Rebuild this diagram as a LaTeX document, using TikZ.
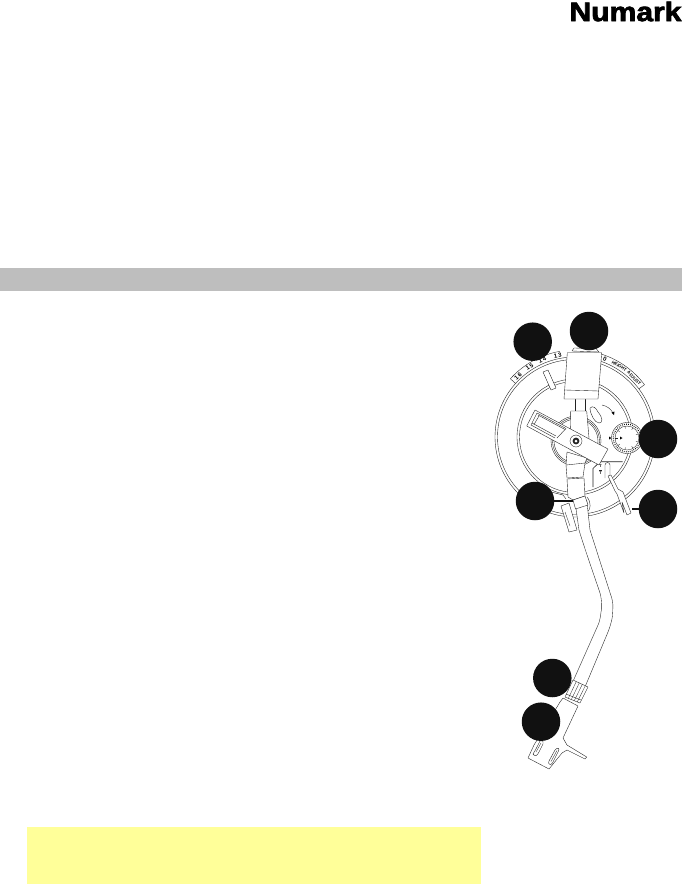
\documentclass[tikz,border=0pt]{standalone}
\usepackage{fontspec}
\setmainfont{Liberation Sans}
\newfontfamily\logofont[FakeBold=2.5,BoldFont={Liberation Sans Bold}]{Liberation Sans Bold}
\usetikzlibrary{calc}
\definecolor{bandgrey}{HTML}{BEBEBE}
\definecolor{noteyellow}{HTML}{FFFF99}
\definecolor{dotblack}{HTML}{111111}
\definecolor{inkline}{HTML}{222222}
\tikzset{
  ln/.style={draw=inkline,line width=0.38pt,line join=round},
  wh/.style={ln,fill=white},
  fine/.style={draw=inkline,line width=0.3pt},
  dot/.style={circle,fill=dotblack,draw=none,minimum size=#1,inner sep=0pt},
  dot/.default=38.5pt,
  lead/.style={draw=dotblack,line width=2.2pt},
  scaletxt/.style={font=\bfseries\fontsize{6}{6}\selectfont,inner sep=0pt},
  smalltxt/.style={font=\bfseries\fontsize{4.4}{4.4}\selectfont,inner sep=0pt}
}
\begin{document}
\begin{tikzpicture}[x=1pt,y=-1pt]
\useasboundingbox (0,0) rectangle (682,884);
% page furniture
\fill[bandgrey] (0,268) rectangle (682,290.5);
\fill[noteyellow] (27,827) rectangle (481,884);
\node[inner sep=0pt,anchor=center] (logo) at (625.5,11.5) {\resizebox{112pt}{19.5pt}{\logofont Numark}};
\coordinate (c) at (575,437);
% rings
\draw[ln] (c) circle[radius=80];
\draw[ln] (c) circle[radius=77.5];
\draw[ln] (c) circle[radius=58];
\draw[ln] (c) circle[radius=55.5];
% height scale band
\draw[ln] ($(c)+(-138:87)$) arc[start angle=-138,end angle=-100,radius=87];
\draw[ln] ($(c)+(-72:87)$) arc[start angle=-72,end angle=-37,radius=87];
\draw[ln] ($(c)+(-138:87)$) -- ($(c)+(-138:80)$);
\draw[ln] ($(c)+(-37:87)$) -- ($(c)+(-37:80)$);
\foreach \lbl/\a in {{1\,6}/-133,{1\,5}/-123,{1\,4}/-113,{1\,3}/-102,0/-69}
  \node[scaletxt,rotate={-(\a+90)}] at ($(c)+(\a:83.5)$) {\lbl};
\node[smalltxt,rotate=-32] at ($(c)+(-58:83.5)$) {HEIGHT};
\node[smalltxt,rotate=-45] at ($(c)+(-45:83.5)$) {ADJUST};
% scale pointer
\draw[wh] (543,372) -- (548,370) -- (556,388) -- (551,390) -- cycle;
% centre hub
\draw[ln] (576,441) circle[radius=25];
\draw[ln] (576,441) circle[radius=23.5];
\draw[ln] (576,441) circle[radius=22];
% anti-skate dial
\draw[wh] (627,438) circle[radius=15.5];
\draw[ln] (627,438) circle[radius=12];
\draw[line width=1.1pt,dash pattern=on 0.7pt off 1.3pt] (627,438) circle[radius=13.8];
\foreach \a in {180,220,260,300,340,20,60,100,140}
  \draw[fine] ($(627,438)+(\a:12)$) -- ($(627,438)+(\a:9.5)$);
\fill (609,436.5) -- (611.5,438) -- (609,439.5) -- cycle;
\fill (620,436.5) -- (622.5,438) -- (620,439.5) -- cycle;
% teardrop and arrow
\draw[wh] (590,408) .. controls (593,405) and (596,408) .. (598,412) .. controls (603,418) and (603,423) .. (599,423) .. controls (595,423) and (590,414) .. (590,408) -- cycle;
\draw[ln] (602,405) .. controls (607,406) and (611,409) .. (613,413);
\fill (614,415) -- (611.5,412.5) -- (614.5,411.5) -- cycle;
% cue-lift panel
\draw[draw=inkline,line width=0.6pt] (622.7,461.7) -- (600,461.7) -- (593,468.5) -- (593,487);
\node[smalltxt,scale=0.9] (ta) at (600.5,466) {T};
\node[smalltxt,scale=0.9] (tb) at (600.5,473.5) {T};
\draw[fine] (599,470) -- (602,470);
\draw[ln] (605,478) -- (605,465) arc[start angle=180,end angle=360,radius=2.5] -- (610,478);
% cue lever
\draw[wh] (608,476) -- (611,475) -- (618,489) -- (623,492) -- (631,513) -- (627,515) -- (622,502) -- (624,513) -- (617,494) -- (615,491) -- cycle;
% arm rest
\draw[wh] (561,506) -- (569,503) -- (577,530) -- (569,532) -- cycle;
\draw[fine] (565,512) -- (570,526);
\draw[ln] (551,492) -- (563,495) -- (566,499);
\draw[ln] (587,497) .. controls (592,503) and (590,510) .. (588,511);
% arm tube
\draw[wh] (575,501.5) -- (579,530) .. controls (585,550) and (594,575) .. (600,593) .. controls (602,600) and (602,610) .. (601,612) .. controls (600,622) and (598,625) .. (596.7,628) -- (572.7,682) -- (585,687) -- (608,632) .. controls (611,624) and (612.7,618) .. (612.7,612) .. controls (613,604) and (613,603) .. (611.7,598) -- (590,530) -- (586.7,500) -- cycle;
% collar on arm and lower body
\draw[wh] (567,479) -- (568,497) -- (573,500) -- (585,496) -- (584,478) -- cycle;
\draw[wh] (573,500) -- (585,496) -- (588,505) -- (575.5,509) -- cycle;
% upper stem
\draw[wh] (575,398) -- (585.5,398) -- (585.5,411) -- (575,411) -- cycle;
\draw[wh] (570.7,411) -- (586.7,411) -- (590,450) -- (570,450) -- cycle;
% taper under lever
\draw[wh] (567,452) -- (566,465) -- (567,478) -- (583,477) -- (585,463) -- (587,458) -- cycle;
\draw[ln] (566,465) -- (585,463);
% counterweight
\draw[wh] (572,351) -- (574,348) -- (596,348.5) -- (599,352) -- cycle;
\draw[wh] (567.3,352.7) -- (601.7,352.7) -- (598,399) -- (564,399) -- cycle;
\draw[ln] (565,390) -- (599,391);
% lever
\draw[wh] (535,410) -- (608,449) -- (599,465) -- (526.7,426) -- cycle;
\draw[ln] (537,413) -- (566,428.5);
\draw[ln] (538,415) -- (565,429.5);
\draw[ln] (532,423) -- (556,436);
\draw[ln] (531,425) -- (555,438);
\draw[ln] (537,413) -- (531,425);
\draw[ln] (539,416) -- (534,424.5);
\draw[ln] (566,428.5) -- (557,438);
% pivot
\draw[wh] (576,441) circle[radius=6];
\fill[inkline] (576,441) circle[radius=3.4];
\fill[white] (576,441) circle[radius=1.5];
% headshell collar
\draw[wh] (573,680) -- (588,687) -- (580,703) -- (565,697) -- cycle;
\foreach \k in {0.22,0.42,0.62,0.82}
  \draw[fine] ($(573,680)!\k!(588,687)$) -- ($(565,697)!\k!(580,703)$);
\draw[ln] (566,694) -- (581,700);
% headshell
\draw[wh] (560,702) -- (563,698) -- (578,706) -- (563,738) -- (567,745) -- (586.7,757) -- (585,759) -- (567,750) -- (562,753) -- (549,769) -- (528,758) -- (534,745) -- cycle;
\draw[ln] (533,754) .. controls (535,751) and (538,745) .. (540,741) .. controls (543,740) and (544,742) .. (543,744) -- (539,752) .. controls (537,756) and (535,757) .. (533,754) -- cycle;
\draw[fine] (536,752) -- (541,743);
\draw[ln] (549,761) -- (555,750) .. controls (557,747) and (560,748) .. (558.5,751) -- (552.5,763) .. controls (550.5,766) and (547.5,764) .. (549,761) -- cycle;
\draw[fine] (551,761.5) -- (557,750.5);
% callouts
\node[dot] (n1) at (532.7,341.7) {};
\node[dot] (n2) at (589,331) {};
\node[dot] (n3) at (658,439) {};
\node[dot] (n4) at (535,501) {};
\node[dot] (n5) at (658,509) {};
\node[dot] (n6) at (552.3,678) {};
\node[dot] (n7) at (541,721.7) {};
\coordinate (t4) at (573,501);
\coordinate (t5) at (631.5,509);
\draw[lead] (n4) -- (t4);
\draw[lead] (n5) -- (t5);
\end{tikzpicture}
\end{document}
